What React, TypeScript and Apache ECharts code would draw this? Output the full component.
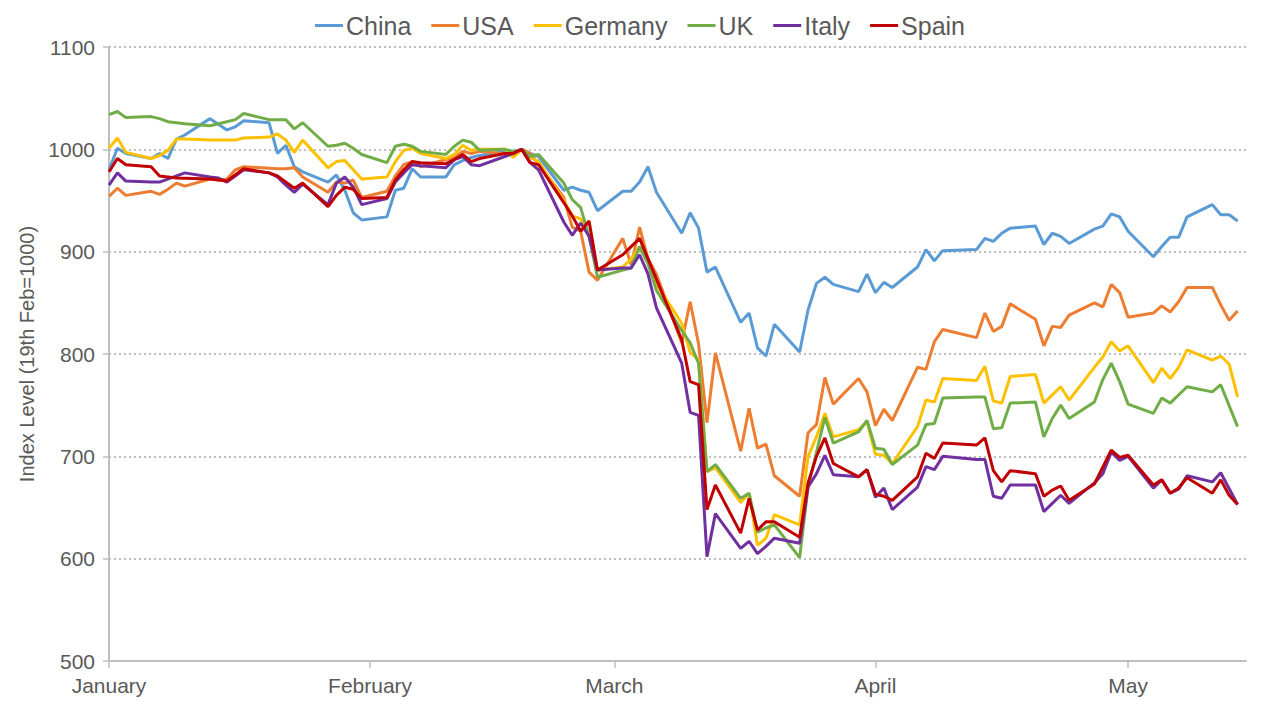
import React, { useEffect, useRef } from "react";
import * as echarts from "echarts";

type Pt = [string, number];

const seriesNames = ["China", "USA", "Germany", "UK", "Italy", "Spain"];
const seriesColors = ["#5B9BD5", "#ED7D31", "#FFC000", "#70AD47", "#7030A0", "#C00000"];
const monthLabels = ["January", "February", "March", "April", "May", "June", "July", "August", "September", "October", "November", "December"];
const yTicks = { min: 500, max: 1100, step: 100 };

const china: Pt[] = [
  ["2020-01-01", 980], ["2020-01-02", 1001], ["2020-01-03", 996], ["2020-01-06", 991], ["2020-01-07", 996], ["2020-01-08", 991], ["2020-01-09", 1010], ["2020-01-10", 1014], ["2020-01-13", 1030], ["2020-01-15", 1019], ["2020-01-16", 1022], ["2020-01-17", 1028], ["2020-01-20", 1026], ["2020-01-21", 996], ["2020-01-22", 1004], ["2020-01-23", 983], ["2020-01-24", 978], ["2020-01-27", 968], ["2020-01-28", 975], ["2020-01-29", 960], ["2020-01-30", 938], ["2020-01-31", 931],
  ["2020-02-03", 934], ["2020-02-04", 960], ["2020-02-05", 962], ["2020-02-06", 981], ["2020-02-07", 973], ["2020-02-10", 973], ["2020-02-11", 985], ["2020-02-12", 989], ["2020-02-13", 992], ["2020-02-14", 994], ["2020-02-17", 998], ["2020-02-18", 997], ["2020-02-19", 1000], ["2020-02-20", 996], ["2020-02-21", 993], ["2020-02-24", 960], ["2020-02-25", 963], ["2020-02-26", 960], ["2020-02-27", 958], ["2020-02-28", 940],
  ["2020-03-02", 959], ["2020-03-03", 959], ["2020-03-04", 968], ["2020-03-05", 983], ["2020-03-06", 958], ["2020-03-09", 918], ["2020-03-10", 938], ["2020-03-11", 923], ["2020-03-12", 880], ["2020-03-13", 885], ["2020-03-16", 831], ["2020-03-17", 840], ["2020-03-18", 806], ["2020-03-19", 798], ["2020-03-20", 829], ["2020-03-23", 802], ["2020-03-24", 843], ["2020-03-25", 869], ["2020-03-26", 875], ["2020-03-27", 868], ["2020-03-30", 861], ["2020-03-31", 878],
  ["2020-04-01", 860], ["2020-04-02", 870], ["2020-04-03", 865], ["2020-04-06", 885], ["2020-04-07", 902], ["2020-04-08", 891], ["2020-04-09", 901], ["2020-04-13", 902], ["2020-04-14", 913], ["2020-04-15", 910], ["2020-04-16", 918], ["2020-04-17", 923], ["2020-04-20", 925], ["2020-04-21", 907], ["2020-04-22", 918], ["2020-04-23", 915], ["2020-04-24", 908], ["2020-04-27", 922], ["2020-04-28", 925], ["2020-04-29", 937], ["2020-04-30", 934],
  ["2020-05-01", 920], ["2020-05-04", 895], ["2020-05-05", 905], ["2020-05-06", 914], ["2020-05-07", 914], ["2020-05-08", 934], ["2020-05-11", 946], ["2020-05-12", 936], ["2020-05-13", 936], ["2020-05-14", 930],
];

const usa: Pt[] = [
  ["2020-01-01", 954], ["2020-01-02", 962], ["2020-01-03", 955], ["2020-01-06", 959], ["2020-01-07", 956], ["2020-01-08", 961], ["2020-01-09", 967], ["2020-01-10", 964], ["2020-01-13", 971], ["2020-01-14", 970], ["2020-01-15", 971], ["2020-01-16", 980], ["2020-01-17", 983], ["2020-01-21", 981], ["2020-01-22", 981], ["2020-01-23", 982], ["2020-01-24", 973], ["2020-01-27", 958], ["2020-01-28", 968], ["2020-01-29", 967], ["2020-01-30", 970], ["2020-01-31", 953],
  ["2020-02-03", 959], ["2020-02-04", 974], ["2020-02-05", 985], ["2020-02-06", 988], ["2020-02-07", 983], ["2020-02-10", 990], ["2020-02-11", 992], ["2020-02-12", 998], ["2020-02-13", 996], ["2020-02-14", 998], ["2020-02-18", 995], ["2020-02-19", 1000], ["2020-02-20", 996], ["2020-02-21", 986], ["2020-02-24", 953], ["2020-02-25", 924], ["2020-02-26", 920], ["2020-02-27", 880], ["2020-02-28", 872],
  ["2020-03-02", 913], ["2020-03-03", 887], ["2020-03-04", 924], ["2020-03-05", 893], ["2020-03-06", 878], ["2020-03-09", 811], ["2020-03-10", 851], ["2020-03-11", 810], ["2020-03-12", 733], ["2020-03-13", 801], ["2020-03-16", 705], ["2020-03-17", 747], ["2020-03-18", 708], ["2020-03-19", 712], ["2020-03-20", 681], ["2020-03-23", 661], ["2020-03-24", 723], ["2020-03-25", 731], ["2020-03-26", 777], ["2020-03-27", 751], ["2020-03-30", 776], ["2020-03-31", 763],
  ["2020-04-01", 730], ["2020-04-02", 746], ["2020-04-03", 735], ["2020-04-06", 787], ["2020-04-07", 785], ["2020-04-08", 812], ["2020-04-09", 824], ["2020-04-13", 816], ["2020-04-14", 840], ["2020-04-15", 822], ["2020-04-16", 827], ["2020-04-17", 849], ["2020-04-20", 834], ["2020-04-21", 808], ["2020-04-22", 827], ["2020-04-23", 826], ["2020-04-24", 838], ["2020-04-27", 850], ["2020-04-28", 846], ["2020-04-29", 868], ["2020-04-30", 860],
  ["2020-05-01", 836], ["2020-05-04", 840], ["2020-05-05", 847], ["2020-05-06", 841], ["2020-05-07", 851], ["2020-05-08", 865], ["2020-05-11", 865], ["2020-05-12", 848], ["2020-05-13", 833], ["2020-05-14", 842],
];

const germany: Pt[] = [
  ["2020-01-01", 1001], ["2020-01-02", 1011], ["2020-01-03", 997], ["2020-01-06", 991], ["2020-01-07", 994], ["2020-01-08", 999], ["2020-01-09", 1010], ["2020-01-10", 1010], ["2020-01-13", 1009], ["2020-01-14", 1009], ["2020-01-15", 1009], ["2020-01-16", 1009], ["2020-01-17", 1011], ["2020-01-20", 1012], ["2020-01-21", 1015], ["2020-01-22", 1009], ["2020-01-23", 997], ["2020-01-24", 1009], ["2020-01-27", 982], ["2020-01-28", 988], ["2020-01-29", 989], ["2020-01-30", 980], ["2020-01-31", 971],
  ["2020-02-03", 973], ["2020-02-04", 988], ["2020-02-05", 999], ["2020-02-06", 1001], ["2020-02-07", 996], ["2020-02-10", 991], ["2020-02-11", 995], ["2020-02-12", 1004], ["2020-02-13", 999], ["2020-02-14", 1000], ["2020-02-17", 1000], ["2020-02-18", 992], ["2020-02-19", 1000], ["2020-02-20", 992], ["2020-02-21", 988], ["2020-02-24", 950], ["2020-02-25", 935], ["2020-02-26", 932], ["2020-02-27", 915], ["2020-02-28", 882],
  ["2020-03-02", 885], ["2020-03-03", 893], ["2020-03-04", 905], ["2020-03-05", 890], ["2020-03-06", 868], ["2020-03-09", 830], ["2020-03-10", 802], ["2020-03-11", 794], ["2020-03-12", 685], ["2020-03-13", 689], ["2020-03-16", 655], ["2020-03-17", 664], ["2020-03-18", 613], ["2020-03-19", 620], ["2020-03-20", 643], ["2020-03-23", 633], ["2020-03-24", 700], ["2020-03-25", 719], ["2020-03-26", 742], ["2020-03-27", 719], ["2020-03-30", 726], ["2020-03-31", 734],
  ["2020-04-01", 702], ["2020-04-02", 701], ["2020-04-03", 693], ["2020-04-06", 729], ["2020-04-07", 755], ["2020-04-08", 753], ["2020-04-09", 776], ["2020-04-13", 774], ["2020-04-14", 788], ["2020-04-15", 754], ["2020-04-16", 752], ["2020-04-17", 778], ["2020-04-20", 780], ["2020-04-21", 752], ["2020-04-22", 760], ["2020-04-23", 768], ["2020-04-24", 755], ["2020-04-27", 787], ["2020-04-28", 797], ["2020-04-29", 812], ["2020-04-30", 803],
  ["2020-05-01", 808], ["2020-05-04", 772], ["2020-05-05", 786], ["2020-05-06", 776], ["2020-05-07", 787], ["2020-05-08", 804], ["2020-05-11", 794], ["2020-05-12", 798], ["2020-05-13", 790], ["2020-05-14", 758],
];

const uk: Pt[] = [
  ["2020-01-01", 1034], ["2020-01-02", 1037], ["2020-01-03", 1031], ["2020-01-06", 1032], ["2020-01-07", 1030], ["2020-01-08", 1027], ["2020-01-09", 1026], ["2020-01-10", 1025], ["2020-01-13", 1023], ["2020-01-14", 1025], ["2020-01-15", 1027], ["2020-01-16", 1029], ["2020-01-17", 1035], ["2020-01-20", 1029], ["2020-01-21", 1029], ["2020-01-22", 1029], ["2020-01-23", 1020], ["2020-01-24", 1026], ["2020-01-27", 1003], ["2020-01-28", 1004], ["2020-01-29", 1006], ["2020-01-30", 1001], ["2020-01-31", 995],
  ["2020-02-03", 987], ["2020-02-04", 1003], ["2020-02-05", 1005], ["2020-02-06", 1003], ["2020-02-07", 998], ["2020-02-10", 995], ["2020-02-11", 1003], ["2020-02-12", 1009], ["2020-02-13", 1007], ["2020-02-14", 999], ["2020-02-17", 1000], ["2020-02-18", 998], ["2020-02-19", 1000], ["2020-02-20", 993], ["2020-02-21", 995], ["2020-02-24", 967], ["2020-02-25", 951], ["2020-02-26", 943], ["2020-02-27", 915], ["2020-02-28", 875],
  ["2020-03-02", 882], ["2020-03-03", 884], ["2020-03-04", 905], ["2020-03-05", 888], ["2020-03-06", 862], ["2020-03-09", 823], ["2020-03-10", 811], ["2020-03-11", 791], ["2020-03-12", 685], ["2020-03-13", 692], ["2020-03-16", 659], ["2020-03-17", 664], ["2020-03-18", 626], ["2020-03-19", 630], ["2020-03-20", 633], ["2020-03-23", 601], ["2020-03-24", 670], ["2020-03-25", 704], ["2020-03-26", 738], ["2020-03-27", 713], ["2020-03-30", 724], ["2020-03-31", 735],
  ["2020-04-01", 708], ["2020-04-02", 707], ["2020-04-03", 692], ["2020-04-06", 711], ["2020-04-07", 731], ["2020-04-08", 732], ["2020-04-09", 757], ["2020-04-13", 758], ["2020-04-14", 758], ["2020-04-15", 727], ["2020-04-16", 728], ["2020-04-17", 752], ["2020-04-20", 753], ["2020-04-21", 719], ["2020-04-22", 737], ["2020-04-23", 750], ["2020-04-24", 737], ["2020-04-27", 753], ["2020-04-28", 775], ["2020-04-29", 791], ["2020-04-30", 773],
  ["2020-05-01", 751], ["2020-05-04", 742], ["2020-05-05", 757], ["2020-05-06", 752], ["2020-05-08", 768], ["2020-05-11", 763], ["2020-05-12", 770], ["2020-05-14", 729],
];

const italy: Pt[] = [
  ["2020-01-01", 965], ["2020-01-02", 977], ["2020-01-03", 969], ["2020-01-06", 968], ["2020-01-07", 968], ["2020-01-10", 977], ["2020-01-13", 973], ["2020-01-14", 972], ["2020-01-15", 968], ["2020-01-17", 980], ["2020-01-20", 977], ["2020-01-21", 973], ["2020-01-22", 965], ["2020-01-23", 958], ["2020-01-24", 966], ["2020-01-27", 946], ["2020-01-28", 967], ["2020-01-29", 973], ["2020-01-30", 963], ["2020-01-31", 946],
  ["2020-02-03", 952], ["2020-02-04", 968], ["2020-02-05", 977], ["2020-02-06", 985], ["2020-02-07", 984], ["2020-02-10", 982], ["2020-02-11", 990], ["2020-02-12", 993], ["2020-02-13", 985], ["2020-02-14", 984], ["2020-02-17", 993], ["2020-02-18", 996], ["2020-02-19", 1000], ["2020-02-20", 987], ["2020-02-21", 980], ["2020-02-24", 929], ["2020-02-25", 916], ["2020-02-26", 928], ["2020-02-27", 915], ["2020-02-28", 882],
  ["2020-03-02", 884], ["2020-03-03", 884], ["2020-03-04", 897], ["2020-03-05", 878], ["2020-03-06", 845], ["2020-03-09", 791], ["2020-03-10", 743], ["2020-03-11", 740], ["2020-03-12", 602], ["2020-03-13", 644], ["2020-03-16", 610], ["2020-03-17", 617], ["2020-03-18", 605], ["2020-03-19", 612], ["2020-03-20", 620], ["2020-03-23", 615], ["2020-03-24", 670], ["2020-03-25", 683], ["2020-03-26", 701], ["2020-03-27", 682], ["2020-03-30", 680], ["2020-03-31", 687],
  ["2020-04-01", 660], ["2020-04-02", 669], ["2020-04-03", 648], ["2020-04-06", 670], ["2020-04-07", 690], ["2020-04-08", 687], ["2020-04-09", 700], ["2020-04-13", 697], ["2020-04-14", 697], ["2020-04-15", 661], ["2020-04-16", 659], ["2020-04-17", 672], ["2020-04-20", 672], ["2020-04-21", 646], ["2020-04-22", 654], ["2020-04-23", 662], ["2020-04-24", 654], ["2020-04-27", 674], ["2020-04-28", 683], ["2020-04-29", 704], ["2020-04-30", 696],
  ["2020-05-01", 700], ["2020-05-04", 669], ["2020-05-05", 677], ["2020-05-06", 664], ["2020-05-07", 668], ["2020-05-08", 681], ["2020-05-11", 675], ["2020-05-12", 684], ["2020-05-14", 653],
];

const spain: Pt[] = [
  ["2020-01-01", 978], ["2020-01-02", 991], ["2020-01-03", 985], ["2020-01-06", 983], ["2020-01-07", 974], ["2020-01-09", 972], ["2020-01-13", 971], ["2020-01-15", 969], ["2020-01-17", 981], ["2020-01-20", 977], ["2020-01-21", 974], ["2020-01-23", 962], ["2020-01-24", 967], ["2020-01-27", 944], ["2020-01-28", 955], ["2020-01-29", 963], ["2020-01-30", 961], ["2020-01-31", 952],
  ["2020-02-03", 953], ["2020-02-04", 970], ["2020-02-05", 980], ["2020-02-06", 988], ["2020-02-07", 987], ["2020-02-10", 986], ["2020-02-11", 990], ["2020-02-12", 995], ["2020-02-13", 988], ["2020-02-14", 991], ["2020-02-17", 996], ["2020-02-18", 996], ["2020-02-19", 1000], ["2020-02-20", 987], ["2020-02-21", 985], ["2020-02-24", 948], ["2020-02-25", 935], ["2020-02-26", 920], ["2020-02-27", 930], ["2020-02-28", 882],
  ["2020-03-02", 897], ["2020-03-03", 905], ["2020-03-04", 913], ["2020-03-05", 893], ["2020-03-06", 873], ["2020-03-09", 814], ["2020-03-10", 773], ["2020-03-11", 770], ["2020-03-12", 648], ["2020-03-13", 672], ["2020-03-16", 625], ["2020-03-17", 659], ["2020-03-18", 628], ["2020-03-19", 636], ["2020-03-20", 636], ["2020-03-23", 621], ["2020-03-24", 674], ["2020-03-25", 700], ["2020-03-26", 718], ["2020-03-27", 693], ["2020-03-30", 680], ["2020-03-31", 687],
  ["2020-04-01", 663], ["2020-04-02", 661], ["2020-04-03", 657], ["2020-04-06", 680], ["2020-04-07", 703], ["2020-04-08", 698], ["2020-04-09", 713], ["2020-04-13", 711], ["2020-04-14", 718], ["2020-04-15", 686], ["2020-04-16", 675], ["2020-04-17", 686], ["2020-04-20", 683], ["2020-04-21", 661], ["2020-04-22", 667], ["2020-04-23", 671], ["2020-04-24", 657], ["2020-04-27", 673], ["2020-04-29", 706], ["2020-04-30", 699],
  ["2020-05-01", 701], ["2020-05-04", 672], ["2020-05-05", 677], ["2020-05-06", 664], ["2020-05-07", 669], ["2020-05-08", 679], ["2020-05-11", 664], ["2020-05-12", 677], ["2020-05-13", 662], ["2020-05-14", 653],
];

const allData = [china, usa, germany, uk, italy, spain];
const FONT = "'Liberation Sans', Arial, sans-serif";

export default function App() {
  const ref = useRef<HTMLDivElement>(null);
  useEffect(() => {
    document.body.style.margin = "0";
    if (!ref.current) return;
    const chart = echarts.init(ref.current, null, { renderer: "svg" });
    const DAY = 86400000;
    chart.setOption({
      animation: false,
      backgroundColor: "#ffffff",
      textStyle: { fontFamily: FONT },
      color: seriesColors,
      legend: {
        top: 8,
        left: "center",
        icon: "rect",
        itemWidth: 28,
        itemHeight: 3,
        itemGap: 20,
        textStyle: { fontSize: 25, color: "#595959", fontFamily: FONT, padding: [0, 0, 0, -2] },
        data: seriesNames,
      },
      grid: { left: 109, right: 34, top: 47, bottom: 59, containLabel: false },
      xAxis: {
        type: "time",
        min: "2020-01-01",
        max: "2020-05-15",
        splitNumber: 5,
        minInterval: 28 * DAY,
        maxInterval: 31 * DAY,
        axisLine: { show: true, lineStyle: { color: "#bfbfbf", width: 2 } },
        axisTick: { show: true, length: 7, lineStyle: { color: "#bfbfbf", width: 1.5 } },
        splitLine: { show: false },
        axisLabel: {
          color: "#595959",
          fontSize: 21,
          fontFamily: FONT,
          margin: 14,
          showMaxLabel: false,
          formatter: (v: number) => monthLabels[new Date(v).getMonth()],
        },
      },
      yAxis: {
        type: "value",
        min: yTicks.min,
        max: yTicks.max,
        interval: yTicks.step,
        name: "Index Level (19th Feb=1000)",
        nameLocation: "middle",
        nameGap: 66,
        nameRotate: 90,
        nameTextStyle: { fontSize: 20, color: "#595959", fontFamily: FONT },
        axisLine: { show: true, lineStyle: { color: "#bfbfbf", width: 2 } },
        axisTick: { show: true, length: 6, lineStyle: { color: "#bfbfbf", width: 1.5 } },
        splitLine: { show: true, lineStyle: { color: "#bfbfbf", width: 2, type: [2, 3] } },
        axisLabel: { color: "#595959", fontSize: 21, fontFamily: FONT, margin: 14, formatter: (v: number) => String(v) },
      },
      series: seriesNames.map((name, i) => ({
        name,
        type: "line",
        data: allData[i],
        showSymbol: false,
        symbol: "none",
        lineStyle: { width: 3, color: seriesColors[i] },
        itemStyle: { color: seriesColors[i] },
      })),
    });
    return () => chart.dispose();
  }, []);
  return <div ref={ref} style={{ width: 1280, height: 720 }} />;
}
